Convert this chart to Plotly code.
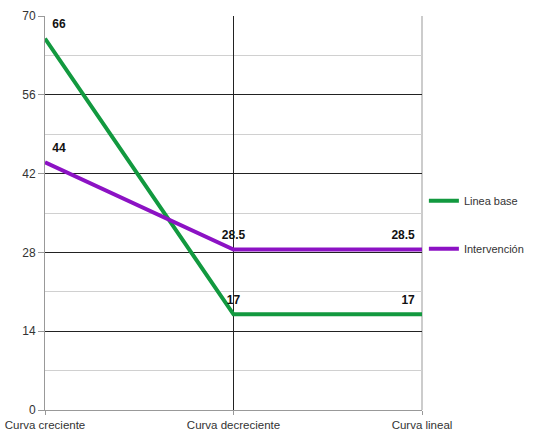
import plotly.graph_objects as go

categories = ["Curva creciente", "Curva decreciente", "Curva lineal"]
linea_base = [66, 17, 17]
intervencion = [44, 28.5, 28.5]
y_ticks = [0, 14, 28, 42, 56, 70]

x_pos = list(range(len(categories)))
label_pos = ["top right", "top center", "top left"]

GREEN = "#12993f"
PURPLE = "#8c12c4"
LABEL_FONT = dict(family="Liberation Sans", size=12, color="#111", weight="bold")

fig = go.Figure()
for name, vals, color, grp in [("Linea base", linea_base, GREEN, "a"),
                               ("Intervención", intervencion, PURPLE, "b")]:
    fig.add_trace(go.Scatter(
        x=x_pos, y=vals, mode="lines+markers+text", name=name,
        line=dict(color=color, width=4),
        marker=dict(size=10, color="rgba(0,0,0,0)"),
        text=[f"{v:g}" for v in vals], textposition=label_pos,
        textfont=LABEL_FONT,
        legendgroup=grp, cliponaxis=False,
    ))

fig.update_layout(
    width=556, height=431,
    margin=dict(l=45, r=134, t=16, b=21, autoexpand=False),
    paper_bgcolor="white", plot_bgcolor="white",
    font=dict(family="Liberation Sans", size=12, color="#333"),
    showlegend=True,
    legend=dict(
        x=1.005, y=0.568, xanchor="left", yanchor="top",
        traceorder="grouped", tracegroupgap=29,
        font=dict(size=11, color="#333"),
        bgcolor="rgba(0,0,0,0)",
    ),
    xaxis=dict(
        range=[0, 2], tickmode="array", tickvals=x_pos, ticktext=categories,
        showgrid=True, gridcolor="#222", gridwidth=1,
        showline=True, linecolor="#999", linewidth=1, mirror=False,
        ticks="outside", ticklen=4, tickcolor="#999",
        zeroline=False, fixedrange=True, automargin=False,
        tickfont=dict(size=11.5),
    ),
    yaxis=dict(
        range=[0, 70], tickmode="array", tickvals=y_ticks,
        showgrid=True, gridcolor="#222", gridwidth=1,
        minor=dict(dtick=7, tick0=0, showgrid=True, gridcolor="#d0d0d0", gridwidth=1),
        showline=True, linecolor="#999", linewidth=1,
        ticks="outside", ticklen=6, tickcolor="#999",
        zeroline=False, fixedrange=True, automargin=False,
    ),
)
# right edge vertical line
fig.add_shape(type="line", xref="paper", yref="paper", x0=1, x1=1, y0=0, y1=1,
              line=dict(color="#999", width=1), layer="below")

fig.write_html("out.html")
